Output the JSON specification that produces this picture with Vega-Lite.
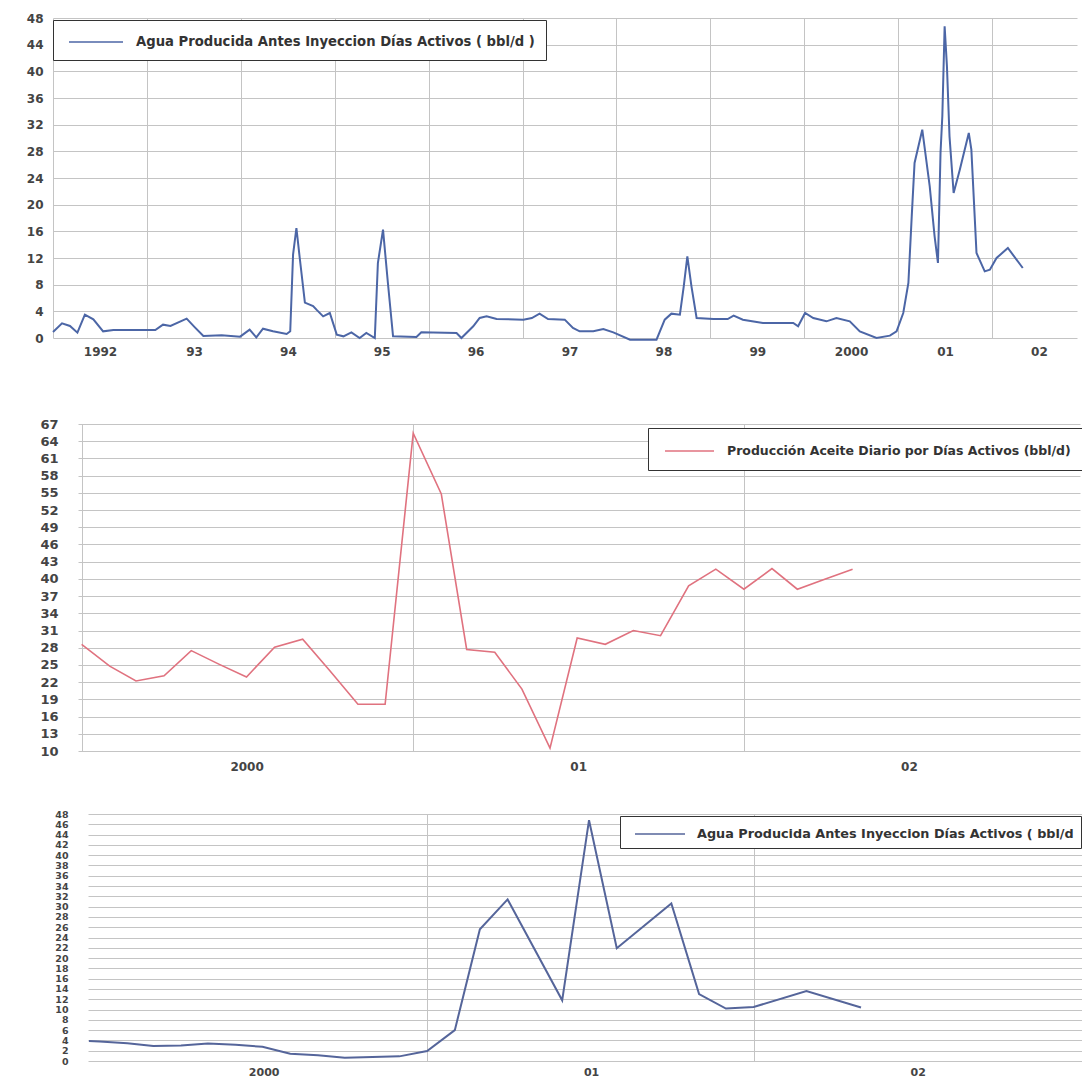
{
  "$schema": "https://vega.github.io/schema/vega-lite/v6.json",
  "background": "white",
  "padding": {"left": 0, "top": 12, "right": 0, "bottom": 0},
  "config": {
    "view": {"stroke": null},
    "font": "DejaVu Sans",
    "axis": {"gridColor": "#c4c4c4", "gridWidth": 1, "ticks": false, "domain": false, "title": null, "labelColor": "#444444", "labelFont": "DejaVu Sans", "labelFontWeight": "bold", "labelAngle": 0, "labelOverlap": false, "labelFlush": false}
  },
  "datasets": {
    "agua1": [
      {"fecha": "1992-01-01", "valor": 0.9}, {"fecha": "1992-02-05", "valor": 2.2}, {"fecha": "1992-03-07", "valor": 1.8},
      {"fecha": "1992-04-05", "valor": 0.8}, {"fecha": "1992-05-04", "valor": 3.5}, {"fecha": "1992-06-06", "valor": 2.8},
      {"fecha": "1992-07-14", "valor": 1.0}, {"fecha": "1992-08-23", "valor": 1.2}, {"fecha": "1993-02-02", "valor": 1.2},
      {"fecha": "1993-03-04", "valor": 2.0}, {"fecha": "1993-04-02", "valor": 1.8}, {"fecha": "1993-06-04", "valor": 2.9},
      {"fecha": "1993-07-06", "valor": 1.6}, {"fecha": "1993-08-08", "valor": 0.3}, {"fecha": "1993-10-18", "valor": 0.4},
      {"fecha": "1993-12-29", "valor": 0.2}, {"fecha": "1994-02-04", "valor": 1.25}, {"fecha": "1994-03-02", "valor": 0.1},
      {"fecha": "1994-03-28", "valor": 1.4}, {"fecha": "1994-05-06", "valor": 1.0}, {"fecha": "1994-06-28", "valor": 0.6},
      {"fecha": "1994-07-12", "valor": 1.0}, {"fecha": "1994-07-23", "valor": 12.5}, {"fecha": "1994-08-05", "valor": 16.5},
      {"fecha": "1994-08-18", "valor": 12.0}, {"fecha": "1994-09-07", "valor": 5.3}, {"fecha": "1994-10-09", "valor": 4.8},
      {"fecha": "1994-10-22", "valor": 4.25}, {"fecha": "1994-11-17", "valor": 3.25}, {"fecha": "1994-12-13", "valor": 3.75},
      {"fecha": "1995-01-09", "valor": 0.5}, {"fecha": "1995-02-04", "valor": 0.25}, {"fecha": "1995-03-07", "valor": 0.85},
      {"fecha": "1995-04-08", "valor": 0.0}, {"fecha": "1995-05-04", "valor": 0.75}, {"fecha": "1995-06-06", "valor": 0.0},
      {"fecha": "1995-06-18", "valor": 11.25}, {"fecha": "1995-07-08", "valor": 16.25}, {"fecha": "1995-07-27", "valor": 8.25},
      {"fecha": "1995-08-16", "valor": 0.25}, {"fecha": "1995-11-15", "valor": 0.15}, {"fecha": "1995-12-04", "valor": 0.85},
      {"fecha": "1996-04-19", "valor": 0.75}, {"fecha": "1996-05-08", "valor": 0.0}, {"fecha": "1996-06-23", "valor": 1.75},
      {"fecha": "1996-07-18", "valor": 3.0}, {"fecha": "1996-08-14", "valor": 3.25}, {"fecha": "1996-09-22", "valor": 2.85},
      {"fecha": "1997-01-04", "valor": 2.75}, {"fecha": "1997-02-06", "valor": 3.0}, {"fecha": "1997-03-08", "valor": 3.65},
      {"fecha": "1997-04-10", "valor": 2.85}, {"fecha": "1997-06-14", "valor": 2.75}, {"fecha": "1997-07-16", "valor": 1.5},
      {"fecha": "1997-08-11", "valor": 1.0}, {"fecha": "1997-10-03", "valor": 1.0}, {"fecha": "1997-11-11", "valor": 1.35},
      {"fecha": "1997-12-20", "valor": 0.85}, {"fecha": "1998-02-23", "valor": -0.25}, {"fecha": "1998-06-06", "valor": -0.25},
      {"fecha": "1998-07-08", "valor": 2.75}, {"fecha": "1998-08-03", "valor": 3.65}, {"fecha": "1998-09-05", "valor": 3.5},
      {"fecha": "1998-09-20", "valor": 7.75}, {"fecha": "1998-10-04", "valor": 12.25}, {"fecha": "1998-10-20", "valor": 7.75},
      {"fecha": "1998-11-09", "valor": 3.0}, {"fecha": "1999-01-13", "valor": 2.85}, {"fecha": "1999-03-10", "valor": 2.85},
      {"fecha": "1999-04-02", "valor": 3.35}, {"fecha": "1999-05-08", "valor": 2.75}, {"fecha": "1999-07-25", "valor": 2.25},
      {"fecha": "1999-11-20", "valor": 2.25}, {"fecha": "1999-12-09", "valor": 1.75}, {"fecha": "2000-01-05", "valor": 3.75},
      {"fecha": "2000-02-06", "valor": 3.0}, {"fecha": "2000-03-28", "valor": 2.5}, {"fecha": "2000-05-06", "valor": 3.0},
      {"fecha": "2000-06-27", "valor": 2.5}, {"fecha": "2000-08-05", "valor": 1.0}, {"fecha": "2000-10-09", "valor": 0.0},
      {"fecha": "2000-11-30", "valor": 0.35}, {"fecha": "2000-12-26", "valor": 1.0}, {"fecha": "2001-01-21", "valor": 3.75},
      {"fecha": "2001-02-10", "valor": 8.25}, {"fecha": "2001-02-23", "valor": 18.25}, {"fecha": "2001-03-06", "valor": 26.25},
      {"fecha": "2001-04-05", "valor": 31.25}, {"fecha": "2001-05-04", "valor": 22.75}, {"fecha": "2001-05-23", "valor": 15.25},
      {"fecha": "2001-06-05", "valor": 11.25}, {"fecha": "2001-06-15", "valor": 27.75}, {"fecha": "2001-06-22", "valor": 33.25},
      {"fecha": "2001-07-01", "valor": 46.75}, {"fecha": "2001-07-10", "valor": 40.75}, {"fecha": "2001-07-20", "valor": 30.25},
      {"fecha": "2001-08-05", "valor": 21.75}, {"fecha": "2001-08-29", "valor": 25.25}, {"fecha": "2001-10-03", "valor": 30.75},
      {"fecha": "2001-10-13", "valor": 28.25}, {"fecha": "2001-11-02", "valor": 12.75}, {"fecha": "2001-12-04", "valor": 10.0},
      {"fecha": "2001-12-24", "valor": 10.25}, {"fecha": "2002-01-19", "valor": 12.0}, {"fecha": "2002-03-04", "valor": 13.5},
      {"fecha": "2002-05-01", "valor": 10.5}
    ],
    "aceite": [
      {"fecha": "2000-01-01", "valor": 28.6}, {"fecha": "2000-02-01", "valor": 24.8}, {"fecha": "2000-03-01", "valor": 22.2},
      {"fecha": "2000-04-01", "valor": 23.1}, {"fecha": "2000-05-01", "valor": 27.5}, {"fecha": "2000-06-01", "valor": 25.1},
      {"fecha": "2000-07-01", "valor": 22.9}, {"fecha": "2000-08-01", "valor": 28.1}, {"fecha": "2000-09-01", "valor": 29.5},
      {"fecha": "2000-10-01", "valor": 24.0}, {"fecha": "2000-11-01", "valor": 18.15}, {"fecha": "2000-12-01", "valor": 18.15},
      {"fecha": "2001-01-01", "valor": 65.4}, {"fecha": "2001-02-01", "valor": 54.8}, {"fecha": "2001-03-01", "valor": 27.7},
      {"fecha": "2001-04-01", "valor": 27.2}, {"fecha": "2001-05-01", "valor": 20.8}, {"fecha": "2001-06-01", "valor": 10.5},
      {"fecha": "2001-07-01", "valor": 29.7}, {"fecha": "2001-08-01", "valor": 28.6}, {"fecha": "2001-09-01", "valor": 31.0},
      {"fecha": "2001-10-01", "valor": 30.1}, {"fecha": "2001-11-01", "valor": 38.8}, {"fecha": "2001-12-01", "valor": 41.7},
      {"fecha": "2002-01-01", "valor": 38.2}, {"fecha": "2002-02-01", "valor": 41.8}, {"fecha": "2002-03-01", "valor": 38.2},
      {"fecha": "2002-04-01", "valor": 40.0}, {"fecha": "2002-05-01", "valor": 41.7}
    ],
    "agua2": [
      {"fecha": "1999-12-20", "valor": 3.9}, {"fecha": "2000-01-01", "valor": 3.8}, {"fecha": "2000-02-01", "valor": 3.45},
      {"fecha": "2000-03-01", "valor": 2.9}, {"fecha": "2000-04-01", "valor": 3.0}, {"fecha": "2000-05-01", "valor": 3.4},
      {"fecha": "2000-06-01", "valor": 3.15}, {"fecha": "2000-07-01", "valor": 2.75}, {"fecha": "2000-08-01", "valor": 1.4},
      {"fecha": "2000-09-01", "valor": 1.1}, {"fecha": "2000-10-01", "valor": 0.65}, {"fecha": "2000-11-01", "valor": 0.8},
      {"fecha": "2000-12-01", "valor": 0.9}, {"fecha": "2001-01-01", "valor": 1.95}, {"fecha": "2001-02-01", "valor": 6.0},
      {"fecha": "2001-03-01", "valor": 25.6}, {"fecha": "2001-04-01", "valor": 31.4}, {"fecha": "2001-06-01", "valor": 11.8},
      {"fecha": "2001-07-01", "valor": 46.8}, {"fecha": "2001-08-01", "valor": 21.9}, {"fecha": "2001-10-01", "valor": 30.6},
      {"fecha": "2001-11-01", "valor": 13.0}, {"fecha": "2001-12-01", "valor": 10.2}, {"fecha": "2002-01-01", "valor": 10.5},
      {"fecha": "2002-03-01", "valor": 13.6}, {"fecha": "2002-05-01", "valor": 10.4}
    ]
  },
  "columns": 2,
  "align": {"column": "none", "row": "each"},
  "bounds": "full",
  "spacing": 0,
  "resolve": {"scale": {"color": "independent"}, "legend": {"color": "independent"}},
  "concat": [
    {"width": 1, "height": 1, "data": {"values": []}, "mark": "point"},
    {
      "width": 1024,
      "height": 320,
      "data": {"name": "agua1"},
      "mark": {"type": "line", "strokeWidth": 2},
      "encoding": {
        "x": {
          "field": "fecha", "type": "temporal",
          "scale": {"type": "utc", "nice": false, "domain": [{"year": 1992, "month": 1, "date": 1, "utc": true}, {"year": 2002, "month": 11, "date": 28, "utc": true}]},
          "axis": {
            "values": [{"year": 1992, "utc": true}, {"year": 1993, "utc": true}, {"year": 1994, "utc": true}, {"year": 1995, "utc": true}, {"year": 1996, "utc": true}, {"year": 1997, "utc": true}, {"year": 1998, "utc": true}, {"year": 1999, "utc": true}, {"year": 2000, "utc": true}, {"year": 2001, "utc": true}, {"year": 2002, "utc": true}],
            "labelExpr": "(utcyear(datum.value) == 1992 || utcyear(datum.value) == 2000) ? utcFormat(datum.value, '%Y') : utcFormat(datum.value, '%y')",
            "labelOffset": 47, "labelPadding": 8, "labelFontSize": 12, "grid": true,
            "minExtent": 80, "maxExtent": 80
          }
        },
        "y": {
          "field": "valor", "type": "quantitative",
          "scale": {"domain": [0, 48], "nice": false, "zero": false},
          "axis": {"values": [0, 4, 8, 12, 16, 20, 24, 28, 32, 36, 40, 44, 48], "labelFontSize": 12, "labelPadding": 10, "grid": true, "minExtent": 52, "maxExtent": 52}
        },
        "color": {
          "datum": "Agua Producida Antes Inyeccion Días Activos ( bbl/d )",
          "scale": {"range": ["#4c66a6"]},
          "legend": {
            "orient": "none", "legendX": 0, "legendY": 2, "title": null,
            "symbolType": "M-0.6,0H4.8", "symbolSize": 400, "symbolStrokeWidth": 1.5,
            "labelOffset": 50, "padding": 11, "strokeColor": "#333333", "fillColor": "#ffffff",
            "labelFont": "DejaVu Sans", "labelFontSize": 13.2, "labelFontWeight": "bold", "labelColor": "#333333", "labelLimit": 1000
          }
        }
      }
    },
    {"width": 1, "height": 1, "data": {"values": []}, "mark": "point"},
    {
      "width": 1002,
      "height": 327,
      "data": {"name": "aceite"},
      "mark": {"type": "line", "strokeWidth": 1.6},
      "encoding": {
        "x": {
          "field": "fecha", "type": "temporal",
          "scale": {"type": "utc", "nice": false, "domain": [{"year": 1999, "month": 12, "date": 28, "utc": true}, {"year": 2003, "month": 1, "date": 7, "utc": true}]},
          "axis": {
            "values": [{"year": 2000, "utc": true}, {"year": 2001, "utc": true}, {"year": 2002, "utc": true}],
            "labelExpr": "utcyear(datum.value) == 2000 ? utcFormat(datum.value, '%Y') : utcFormat(datum.value, '%y')",
            "labelOffset": 165, "labelPadding": 10, "labelFontSize": 12, "grid": true,
            "minExtent": 58, "maxExtent": 58
          }
        },
        "y": {
          "field": "valor", "type": "quantitative",
          "scale": {"domain": [10, 67], "nice": false, "zero": false},
          "axis": {"values": [10, 13, 16, 19, 22, 25, 28, 31, 34, 37, 40, 43, 46, 49, 52, 55, 58, 61, 64, 67], "labelFontSize": 13, "labelPadding": 20, "grid": true, "minExtent": 77, "maxExtent": 77}
        },
        "color": {
          "datum": "Producción Aceite Diario por Días Activos (bbl/d)",
          "scale": {"range": ["#e0727f"]},
          "legend": {
            "orient": "none", "legendX": 570, "legendY": 4, "title": null,
            "symbolType": "M-0.6,0H4.3", "symbolSize": 400, "symbolStrokeWidth": 1.5,
            "labelOffset": 45, "padding": 12, "strokeColor": "#333333", "fillColor": "#ffffff",
            "labelFont": "DejaVu Sans", "labelFontSize": 12.5, "labelFontWeight": "bold", "labelColor": "#333333", "labelLimit": 1000
          }
        }
      }
    },
    {"width": 1, "height": 1, "data": {"values": []}, "mark": "point"},
    {
      "width": 994,
      "height": 247,
      "data": {"name": "agua2"},
      "mark": {"type": "line", "strokeWidth": 2},
      "encoding": {
        "x": {
          "field": "fecha", "type": "temporal",
          "scale": {"type": "utc", "nice": false, "domain": [{"year": 1999, "month": 12, "date": 19, "utc": true}, {"year": 2003, "month": 1, "date": 3, "utc": true}]},
          "axis": {
            "values": [{"year": 2000, "utc": true}, {"year": 2001, "utc": true}, {"year": 2002, "utc": true}],
            "labelExpr": "utcyear(datum.value) == 2000 ? utcFormat(datum.value, '%Y') : utcFormat(datum.value, '%y')",
            "labelOffset": 164, "labelPadding": 5, "labelFontSize": 11, "grid": true,
            "gridOpacity": {"condition": {"test": "utcyear(datum.value) == 2000", "value": 0}, "value": 1},
            "minExtent": 20, "maxExtent": 20
          }
        },
        "y": {
          "field": "valor", "type": "quantitative",
          "scale": {"domain": [0, 48], "nice": false, "zero": false},
          "axis": {"values": [0, 2, 4, 6, 8, 10, 12, 14, 16, 18, 20, 22, 24, 26, 28, 30, 32, 34, 36, 38, 40, 42, 44, 46, 48], "labelFontSize": 9.5, "labelPadding": 20, "grid": true, "minExtent": 87, "maxExtent": 87}
        },
        "color": {
          "datum": "Agua Producida Antes Inyeccion Días Activos ( bbl/d",
          "scale": {"range": ["#55659a"]},
          "legend": {
            "orient": "none", "legendX": 532, "legendY": 2, "title": null,
            "symbolType": "M-0.3,0H4.7", "symbolSize": 400, "symbolStrokeWidth": 1.5,
            "labelOffset": 48, "padding": 7, "strokeColor": "#333333", "fillColor": "#ffffff",
            "labelFont": "DejaVu Sans", "labelFontSize": 12.8, "labelFontWeight": "bold", "labelColor": "#333333", "labelLimit": 1000
          }
        }
      }
    }
  ]
}
